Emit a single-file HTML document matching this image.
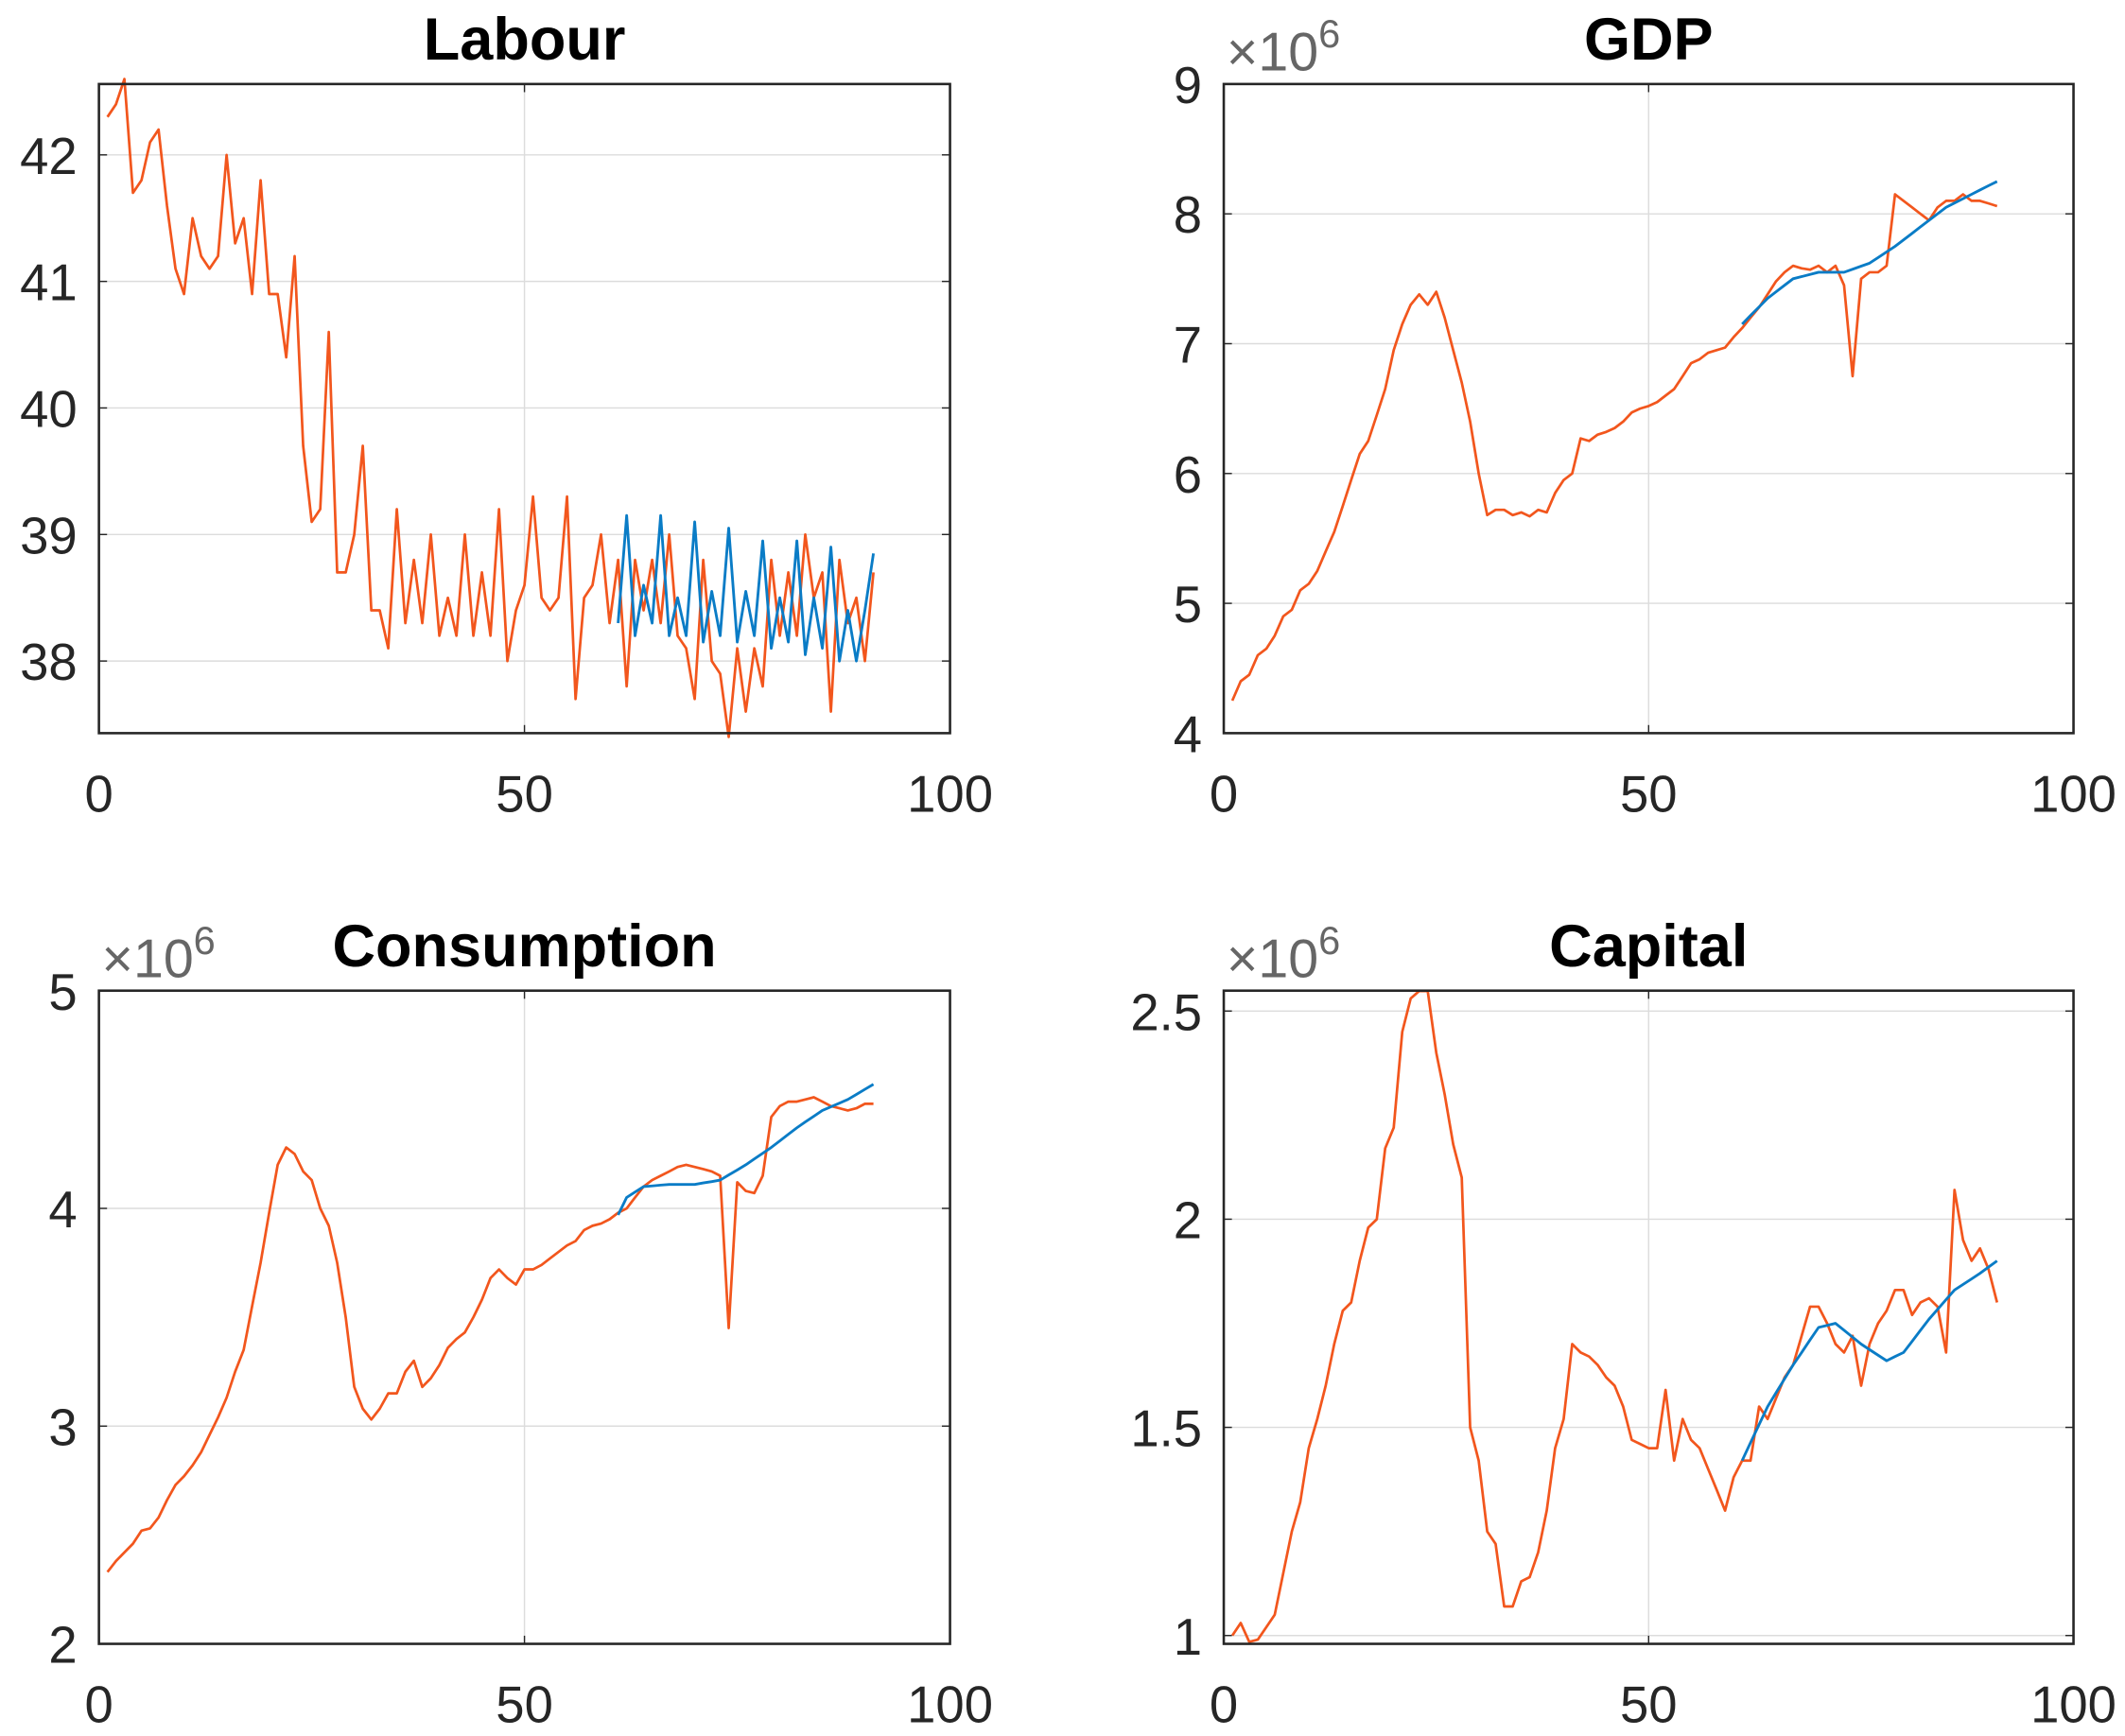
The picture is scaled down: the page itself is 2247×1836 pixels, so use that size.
<!DOCTYPE html>
<html><head><meta charset="utf-8"><style>
html,body{margin:0;padding:0;background:#fff;}
svg{display:block;}
text{font-family:"Liberation Sans",Arial,sans-serif;}
</style></head><body>
<svg id="s" width="2247" height="1836" viewBox="0 0 1568 1281" preserveAspectRatio="none" xmlns="http://www.w3.org/2000/svg"></svg>
<script>
const S=document.getElementById('s');
const OR='#F2561D', BL='#0A7CC6';
function lin(pts){const o={};for(let i=0;i<pts.length-1;i++){const[a,va]=pts[i],[b,vb]=pts[i+1];for(let x=a;x<=b;x++)o[x]=va+(vb-va)*(x-a)/(b-a);}return Object.keys(o).map(k=>[+k,o[k]]);}
function plot(cfg){
 const {L,R,T,B,y0,y1,ticks,title,exp,orange,blue}=cfg;
 const X=v=>L+(R-L)*v/100, Y=v=>B-(B-T)*(v-y0)/(y1-y0);
 let h='';
 [50].forEach(v=>h+=`<line x1="${X(v)}" y1="${T}" x2="${X(v)}" y2="${B}" stroke="#dcdcdc" stroke-width="1"/>`);
 ticks.forEach(t=>{const y=Y(t);h+=`<line x1="${L}" y1="${y}" x2="${R}" y2="${y}" stroke="#dcdcdc" stroke-width="1"/>`;});
 const op=orange.map((v,i)=>`${X(i+1).toFixed(1)},${Y(v).toFixed(1)}`).join(' ');
 h+=`<polyline points="${op}" fill="none" stroke="${OR}" stroke-width="1.9" stroke-linejoin="round"/>`;
 const bp=blue.map(([x,v])=>`${X(x).toFixed(1)},${Y(v).toFixed(1)}`).join(' ');
 h+=`<polyline points="${bp}" fill="none" stroke="${BL}" stroke-width="2" stroke-linejoin="round"/>`;
 h+=`<rect x="${L}" y="${T}" width="${R-L}" height="${B-T}" fill="none" stroke="#262626" stroke-width="1.8"/>`;
 [0,50,100].forEach(v=>{const x=X(v);h+=`<line x1="${x}" y1="${B}" x2="${x}" y2="${B-6}" stroke="#262626"/><line x1="${x}" y1="${T}" x2="${x}" y2="${T+6}" stroke="#262626"/>`;
  h+=`<text x="${x}" y="${B+58}" font-size="38" fill="#262626" text-anchor="middle">${v}</text>`;});
 ticks.forEach(t=>{const y=Y(t);h+=`<line x1="${L}" y1="${y}" x2="${L+6}" y2="${y}" stroke="#262626"/><line x1="${R}" y1="${y}" x2="${R-6}" y2="${y}" stroke="#262626"/>`;
  h+=`<text x="${L-16}" y="${y+14}" font-size="38" fill="#262626" text-anchor="end">${t}</text>`;});
 h+=`<text x="${(L+R)/2}" y="${T-18}" font-size="44" font-weight="bold" fill="#000" text-anchor="middle">${title}</text>`;
 if(exp) h+=`<text x="${L+2}" y="${T-10}" font-size="40" fill="#666">×10<tspan font-size="29" dy="-17">6</tspan></text>`;
 S.insertAdjacentHTML('beforeend',h);
}
const lab=[42.3,42.4,42.6,41.7,41.8,42.1,42.2,41.6,41.1,40.9,41.5,41.2,41.1,41.2,42.0,41.3,41.5,40.9,41.8,40.9,40.9,40.4,41.2,39.7,39.1,39.2,40.6,38.7,38.7,39.0,39.7,38.4,38.4,38.1,39.2,38.3,38.8,38.3,39.0,38.2,38.5,38.2,39.0,38.2,38.7,38.2,39.2,38.0,38.4,38.6,39.3,38.5,38.4,38.5,39.3,37.7,38.5,38.6,39.0,38.3,38.8,37.8,38.8,38.4,38.8,38.3,39.0,38.2,38.1,37.7,38.8,38.0,37.9,37.4,38.1,37.6,38.1,37.8,38.8,38.2,38.7,38.2,39.0,38.5,38.7,37.6,38.8,38.3,38.5,38.0,38.7];
const labB=[38.3,39.15,38.2,38.6,38.3,39.15,38.2,38.5,38.2,39.1,38.15,38.55,38.2,39.05,38.15,38.55,38.2,38.95,38.1,38.5,38.15,38.95,38.05,38.5,38.1,38.9,38.0,38.4,38.0,38.4,38.85].map((v,i)=>[61+i,v]);
plot({L:73,R:701,T:62,B:541,y0:37.43,y1:42.56,ticks:[38,39,40,41,42],title:'Labour',exp:false,orange:lab,blue:labB});
const gdp=[4.25,4.4,4.45,4.6,4.65,4.75,4.9,4.95,5.1,5.15,5.25,5.4,5.55,5.75,5.95,6.15,6.25,6.45,6.65,6.95,7.15,7.3,7.38,7.3,7.4,7.2,6.95,6.7,6.4,6.0,5.68,5.72,5.72,5.68,5.7,5.67,5.72,5.7,5.85,5.95,6.0,6.27,6.25,6.3,6.32,6.35,6.4,6.47,6.5,6.52,6.55,6.6,6.65,6.75,6.85,6.88,6.93,6.95,6.97,7.05,7.12,7.2,7.28,7.38,7.48,7.55,7.6,7.58,7.57,7.6,7.55,7.6,7.45,6.75,7.5,7.55,7.55,7.6,8.15,8.1,8.05,8.0,7.95,8.05,8.1,8.1,8.15,8.1,8.1,8.08,8.06];
plot({L:903,R:1530,T:62,B:541,y0:4,y1:9,ticks:[4,5,6,7,8,9],title:'GDP',exp:true,orange:gdp,blue:lin([[61,7.15],[64,7.35],[67,7.5],[70,7.55],[73,7.55],[76,7.62],[79,7.75],[82,7.9],[85,8.05],[88,8.15],[91,8.25]])});
const con=[2.33,2.38,2.42,2.46,2.52,2.53,2.58,2.66,2.73,2.77,2.82,2.88,2.96,3.04,3.13,3.25,3.35,3.55,3.75,3.98,4.2,4.28,4.25,4.17,4.13,4.0,3.92,3.75,3.5,3.18,3.08,3.03,3.08,3.15,3.15,3.25,3.3,3.18,3.22,3.28,3.36,3.4,3.43,3.5,3.58,3.68,3.72,3.68,3.65,3.72,3.72,3.74,3.77,3.8,3.83,3.85,3.9,3.92,3.93,3.95,3.98,4.0,4.05,4.1,4.13,4.15,4.17,4.19,4.2,4.19,4.18,4.17,4.15,3.45,4.12,4.08,4.07,4.15,4.42,4.47,4.49,4.49,4.5,4.51,4.49,4.47,4.46,4.45,4.46,4.48,4.48];
plot({L:73,R:701,T:731,B:1213,y0:2,y1:5,ticks:[2,3,4,5],title:'Consumption',exp:true,orange:con,blue:lin([[61,3.97],[62,4.05],[64,4.1],[67,4.11],[70,4.11],[73,4.13],[76,4.2],[79,4.28],[82,4.37],[85,4.45],[88,4.5],[91,4.57]])});
const cap=[1.0,1.03,0.98,0.99,1.02,1.05,1.15,1.25,1.32,1.45,1.52,1.6,1.7,1.78,1.8,1.9,1.98,2.0,2.17,2.22,2.45,2.53,2.55,2.57,2.4,2.3,2.18,2.1,1.5,1.42,1.25,1.22,1.07,1.07,1.13,1.14,1.2,1.3,1.45,1.52,1.7,1.68,1.67,1.65,1.62,1.6,1.55,1.47,1.46,1.45,1.45,1.59,1.42,1.52,1.47,1.45,1.4,1.35,1.3,1.38,1.42,1.42,1.55,1.52,1.57,1.62,1.65,1.72,1.79,1.79,1.75,1.7,1.68,1.72,1.6,1.7,1.75,1.78,1.83,1.83,1.77,1.8,1.81,1.79,1.68,2.07,1.95,1.9,1.93,1.88,1.8].map(v=>Math.max(0.985,Math.min(2.548,v)));
plot({L:903,R:1530,T:731,B:1213,y0:0.98,y1:2.549,ticks:[1,1.5,2,2.5],title:'Capital',exp:true,orange:cap,blue:lin([[61,1.42],[64,1.55],[67,1.65],[70,1.74],[72,1.75],[75,1.7],[78,1.66],[80,1.68],[83,1.76],[86,1.83],[89,1.87],[91,1.9]])});
</script>
</body></html>
